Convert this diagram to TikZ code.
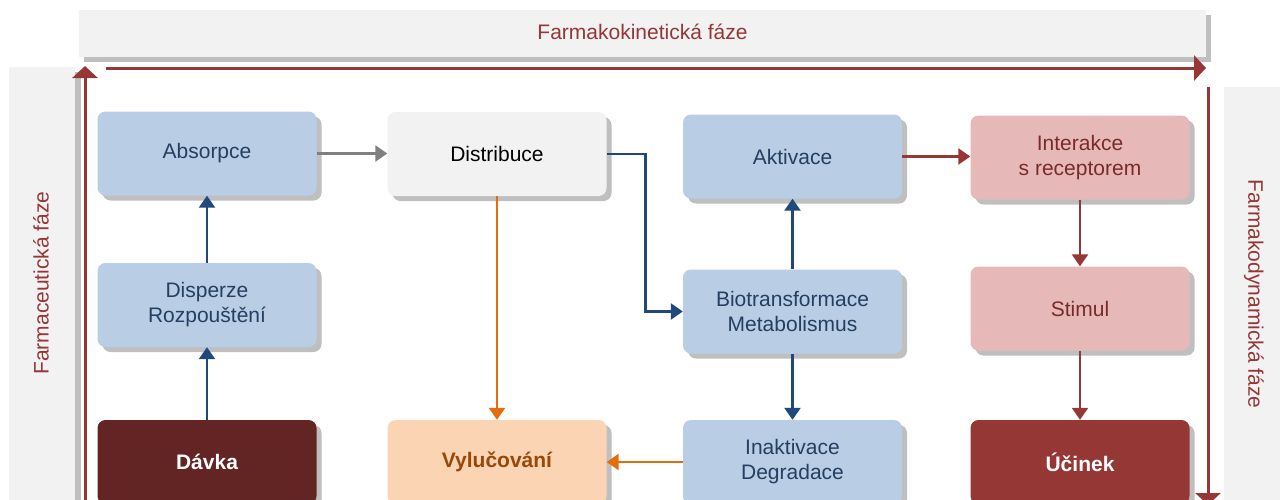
\documentclass[tikz,border=0pt]{standalone}
\usepackage{fontspec}
\setmainfont{Liberation Sans}
\usetikzlibrary{arrows.meta,shadows}
\definecolor{bluefill}{HTML}{B9CDE5}
\definecolor{bluetext}{HTML}{243F60}
\definecolor{bluearrow}{HTML}{1F497D}
\definecolor{grayfill}{HTML}{F2F2F2}
\definecolor{shadowgray}{HTML}{BFBFBF}
\definecolor{pinkfill}{HTML}{E6B9B8}
\definecolor{pinktext}{HTML}{772C2A}
\definecolor{darkred}{HTML}{632523}
\definecolor{midred}{HTML}{953735}
\definecolor{peachfill}{HTML}{FBD4B4}
\definecolor{peachtext}{HTML}{984807}
\definecolor{orangearrow}{HTML}{E46C0A}
\definecolor{grayarrow}{HTML}{808080}
\tikzset{
  box/.style={rectangle, rounded corners=8pt, minimum width=219pt, minimum height=84pt,
    inner sep=0pt, align=center, font=\fontsize{21}{25}\selectfont,
    drop shadow={shadow xshift=5pt, shadow yshift=-5pt, fill=shadowgray, opacity=1}},
  bluebox/.style={box, fill=bluefill, text=bluetext},
  graybox/.style={box, fill=grayfill, text=black},
  pinkbox/.style={box, fill=pinkfill, text=pinktext},
  dosebox/.style={box, fill=darkred, text=white, font=\fontsize{21}{25}\selectfont\bfseries},
  effectbox/.style={box, fill=midred, text=white, font=\fontsize{21}{25}\selectfont\bfseries},
  peachbox/.style={box, fill=peachfill, text=peachtext, font=\fontsize{21}{25}\selectfont\bfseries},
  conn/.style={line width=2.5pt, -{Triangle[length=12pt,width=16pt]}},
  bluearr/.style={conn, draw=bluearrow},
  orangearr/.style={conn, draw=orangearrow},
  grayarr/.style={conn, draw=grayarrow},
  redarr/.style={conn, draw=midred},
  phasearr/.style={line width=3pt, draw=midred, -{Triangle[length=12pt,width=25pt]}},
  banner/.style={fill=grayfill},
  bannershadow/.style={fill=shadowgray},
  phasetext/.style={text=midred, font=\fontsize{21}{25}\selectfont}
}
\begin{document}
\begin{tikzpicture}[x=1pt,y=-1pt]
\useasboundingbox (0,0) rectangle (1280,499);
\clip (0,0) rectangle (1280,499);
% banners
\fill[bannershadow] (84,15) rectangle (1211,62);
\fill[banner] (79,10) rectangle (1206,57);
\fill[bannershadow] (14,72) rectangle (81,510);
\fill[banner] (9,67) rectangle (75,510);
\fill[bannershadow] (1229,92) rectangle (1295,510);
\fill[banner] (1224,87) rectangle (1290,510);
\node[phasetext] (tktext) at (642.5,31.5) {Farmakokinetická fáze};
\node[phasetext, rotate=90] (fctext) at (41,283) {Farmaceutická fáze};
\node[phasetext, rotate=-90] (fdtext) at (1254,294) {Farmakodynamická fáze};
% phase arrows
\coordinate (tkA) at (106,68);
\coordinate (tkB) at (1206,68);
\coordinate (fcA) at (85,510);
\coordinate (fcB) at (85,66);
\coordinate (fdA) at (1208,87);
\coordinate (fdB) at (1208,505);
\draw[phasearr] (tkA) -- (tkB);
\draw[phasearr] (fcA) -- (fcB);
\draw[phasearr] (fdA) -- (fdB);
% nodes
\node[bluebox] (absorpce) at (207,153.5) {Absorpce};
\node[graybox] (distribuce) at (497,154) {Distribuce};
\node[bluebox] (aktivace) at (792.5,156.5) {Aktivace};
\node[pinkbox] (interakce) at (1080,157.5) {Interakce\\s receptorem};
\node[bluebox] (disperze) at (207,305) {Disperze\\Rozpouštění};
\node[bluebox] (biotrans) at (792.5,311.5) {Biotransformace\\Metabolismus};
\node[pinkbox] (stimul) at (1080,308.5) {Stimul};
\node[dosebox] (davka) at (207,462) {Dávka};
\node[peachbox] (vylucovani) at (497,462) {Vylučování};
\node[bluebox] (inaktivace) at (792.5,462) {Inaktivace\\Degradace};
\node[effectbox] (ucinek) at (1080,462) {Účinek};
% connectors
\draw[grayarr] (absorpce.east) -- (absorpce.east -| distribuce.west);
\draw[bluearr] (disperze) -- (absorpce);
\draw[bluearr] (davka) -- (disperze);
\draw[bluearr] (distribuce.east) -- ++(39,0) |- (biotrans.west);
\draw[orangearr] (distribuce) -- (vylucovani);
\draw[bluearr] (biotrans) -- (aktivace);
\draw[bluearr] (biotrans) -- (inaktivace);
\draw[orangearr] (inaktivace) -- (vylucovani);
\draw[redarr] (aktivace.east) -- (aktivace.east -| interakce.west);
\draw[redarr] (interakce) -- (stimul);
\draw[redarr] (stimul) -- (ucinek);
\end{tikzpicture}
\end{document}
